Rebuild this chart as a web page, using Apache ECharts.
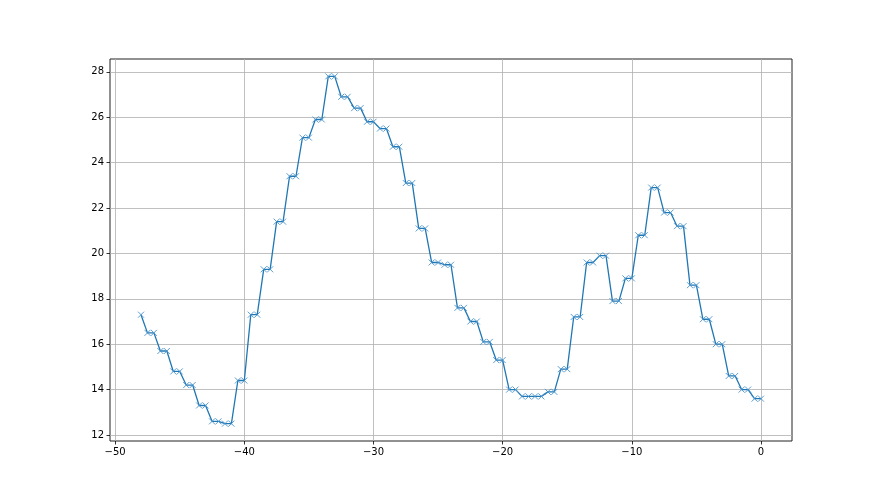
<!DOCTYPE html>
<html>
<head>
<meta charset="utf-8">
<script src="https://cdn.jsdelivr.net/npm/echarts@6/dist/echarts.min.js"></script>
<style>
html,body{margin:0;padding:0;background:#fff;}
#chart{width:880px;height:495px;}
</style>
</head>
<body>
<div id="chart"></div>
<script>
const xValues = [-48,
  -47.5,-47, -46.5,-46, -45.5,-45, -44.5,-44, -43.5,-43, -42.5,-42, -41.5,-41, -40.5,-40,
  -39.5,-39, -38.5,-38, -37.5,-37, -36.5,-36, -35.5,-35, -34.5,-34, -33.5,-33, -32.5,-32,
  -31.5,-31, -30.5,-30, -29.5,-29, -28.5,-28, -27.5,-27, -26.5,-26, -25.5,-25, -24.5,-24,
  -23.5,-23, -22.5,-22, -21.5,-21, -20.5,-20, -19.5,-19, -18.5,-18, -17.5,-17, -16.5,-16,
  -15.5,-15, -14.5,-14, -13.5,-13, -12.5,-12, -11.5,-11, -10.5,-10, -9.5,-9, -8.5,-8,
  -7.5,-7, -6.5,-6, -5.5,-5, -4.5,-4, -3.5,-3, -2.5,-2, -1.5,-1, -0.5,0];
const yValues = [17.3,
  16.5,16.5, 15.7,15.7, 14.8,14.8, 14.2,14.2, 13.3,13.3, 12.6,12.6, 12.5,12.5, 14.4,14.4,
  17.3,17.3, 19.3,19.3, 21.4,21.4, 23.4,23.4, 25.1,25.1, 25.9,25.9, 27.8,27.8, 26.9,26.9,
  26.4,26.4, 25.8,25.8, 25.5,25.5, 24.7,24.7, 23.1,23.1, 21.1,21.1, 19.6,19.6, 19.5,19.5,
  17.6,17.6, 17.0,17.0, 16.1,16.1, 15.3,15.3, 14.0,14.0, 13.7,13.7, 13.7,13.7, 13.9,13.9,
  14.9,14.9, 17.2,17.2, 19.6,19.6, 19.9,19.9, 17.9,17.9, 18.9,18.9, 20.8,20.8, 22.9,22.9,
  21.8,21.8, 21.2,21.2, 18.6,18.6, 17.1,17.1, 16.0,16.0, 14.6,14.6, 14.0,14.0, 13.6,13.6];
const xTicks = [-50, -40, -30, -20, -10, 0];
const yTicks = [12, 14, 16, 18, 20, 22, 24, 26, 28];

const points = xValues.map((x, i) => [x, yValues[i]]);
const fmt = v => String(v).replace('-', '\u2212');
const font = {fontFamily: 'DejaVu Sans', fontSize: 10, color: '#000'};

const chart = echarts.init(document.getElementById('chart'), null, {renderer: 'canvas'});
chart.setOption({
  animation: false,
  backgroundColor: '#fff',
  grid: {left: 110, top: 59, width: 682, height: 382, show: true, borderColor: '#222', borderWidth: 1, containLabel: false},
  xAxis: {
    type: 'value', min: -50.4, max: 2.4,
    axisLine: {show: false, onZero: false},
    axisTick: {show: true, length: 3.5, customValues: xTicks, lineStyle: {color: '#000', width: 0.8}},
    axisLabel: Object.assign({customValues: xTicks, formatter: fmt, margin: 6}, font),
    splitLine: {show: true, customValues: xTicks, lineStyle: {color: '#b0b0b0', width: 0.8}}
  },
  yAxis: {
    type: 'value', min: 11.735, max: 28.565,
    axisLine: {show: false, onZero: false},
    axisTick: {show: true, length: 3.5, customValues: yTicks, lineStyle: {color: '#000', width: 0.8}},
    axisLabel: Object.assign({customValues: yTicks, formatter: fmt, margin: 6}, font),
    splitLine: {show: true, customValues: yTicks, lineStyle: {color: '#b0b0b0', width: 0.8}}
  },
  series: [{
    type: 'line',
    data: points,
    symbol: 'path://M0,0L10,10M10,0L0,10',
    symbolSize: 6,
    showAllSymbol: true,
    z: 3,
    lineStyle: {color: '#1f77b4', width: 1.3},
    itemStyle: {color: '#4a93cc', borderColor: '#4a93cc', borderWidth: 0.9},
    emphasis: {disabled: true}
  }]
});
</script>
</body>
</html>
